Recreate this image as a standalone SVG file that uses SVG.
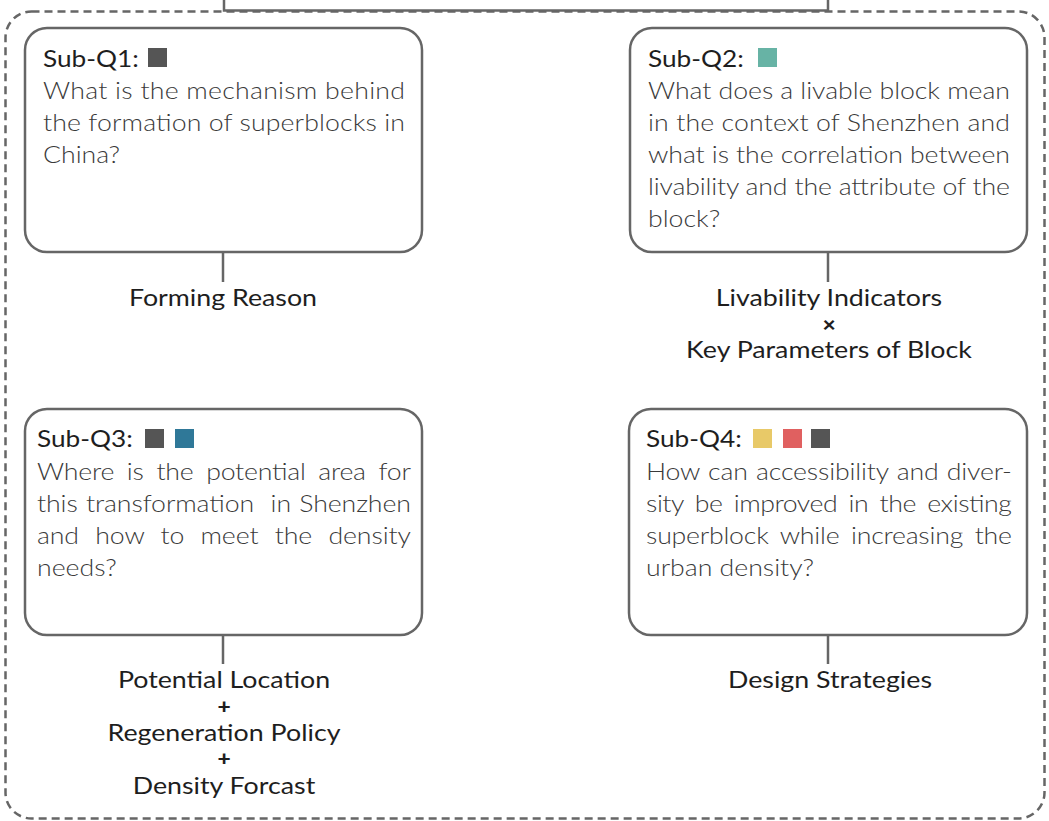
<svg xmlns="http://www.w3.org/2000/svg" width="1049" height="821" viewBox="0 0 1049 821">
<style>
.box{fill:#fff;stroke:#666;stroke-width:2.5}
.line{fill:none;stroke:#666;stroke-width:2.5}
.title{font-family:Lato,"Liberation Sans",sans-serif;font-size:23px;fill:#1e1e1e}
.body{font-family:Lato,"Liberation Sans",sans-serif;font-weight:300;font-size:23.4px;fill:#3a3a3a}
.lbl{font-family:Lato,"Liberation Sans",sans-serif;font-size:23.5px;fill:#1e1e1e;text-anchor:middle}
.op{font-family:Lato,"Liberation Sans",sans-serif;font-size:20px;font-weight:900;fill:#1e1e1e;text-anchor:middle}
</style>
<rect width="1049" height="821" fill="#fff"/>
<g id="frame">
<rect x="5.5" y="11.5" width="1039" height="807" rx="26" ry="26" fill="none" stroke="#666" stroke-width="2.5" stroke-dasharray="8 5"/>
</g>
<g id="connectors">
<path class="line" d="M224 0 V10.5 H828 V0"/>
<path class="line" d="M223 252 V282"/>
<path class="line" d="M828 252 V282"/>
<path class="line" d="M223 635 V664"/>
<path class="line" d="M828 635 V664"/>
</g>
<g id="subq1">
<rect class="box" x="25" y="28" width="397" height="224" rx="22"/>
<rect x="148" y="48" width="19" height="19" fill="#555"/>
<g transform="scale(1.14 1)">
<text class="title" x="37.72" y="67">Sub-Q1:</text>
<text class="body" x="37.72" y="99" textLength="317.5" lengthAdjust="spacing">What is the mechanism behind</text>
<text class="body" x="37.72" y="131" textLength="317.5" lengthAdjust="spacing">the formation of superblocks in</text>
<text class="body" x="37.72" y="163">China?</text>
</g>
</g>
<g id="subq2">
<rect class="box" x="630" y="28" width="397" height="224" rx="22"/>
<rect x="758" y="48" width="19" height="19" fill="#67b3a5"/>
<g transform="scale(1.14 1)">
<text class="title" x="568.42" y="67">Sub-Q2:</text>
<text class="body" x="568.42" y="99" textLength="317.5" lengthAdjust="spacing">What does a livable block mean</text>
<text class="body" x="568.42" y="131" textLength="317.5" lengthAdjust="spacing">in the context of Shenzhen and</text>
<text class="body" x="568.42" y="163" textLength="317.5" lengthAdjust="spacing">what is the correlation between</text>
<text class="body" x="568.42" y="195" textLength="317.5" lengthAdjust="spacing">livability and the attribute of the</text>
<text class="body" x="568.42" y="227">block?</text>
</g>
</g>
<g id="subq3">
<rect class="box" x="25" y="409" width="397" height="226" rx="22"/>
<rect x="145" y="429" width="19" height="19" fill="#555"/>
<rect x="175" y="429" width="19" height="19" fill="#2f7898"/>
<g transform="scale(1.14 1)">
<text class="title" x="32.46" y="447">Sub-Q3:</text>
<text class="body" x="32.46" y="480" word-spacing="5" textLength="328" lengthAdjust="spacing">Where is the potential area for</text>
<text class="body" x="32.46" y="512" word-spacing="1" textLength="328" lengthAdjust="spacing">this transformation&#160; in Shenzhen</text>
<text class="body" x="32.46" y="544" word-spacing="8" textLength="328" lengthAdjust="spacing">and how to meet the density</text>
<text class="body" x="32.46" y="576">needs?</text>
</g>
</g>
<g id="subq4">
<rect class="box" x="629" y="409" width="398" height="226" rx="22"/>
<rect x="753" y="429" width="19" height="19" fill="#e8c968"/>
<rect x="783" y="429" width="19" height="19" fill="#e06060"/>
<rect x="811" y="429" width="19" height="19" fill="#555"/>
<g transform="scale(1.14 1)">
<text class="title" x="566.67" y="447">Sub-Q4:</text>
<text class="body" x="566.67" y="480" word-spacing="1" textLength="321" lengthAdjust="spacing">How can accessibility and diver-</text>
<text class="body" x="566.67" y="512" word-spacing="4" textLength="321" lengthAdjust="spacing">sity be improved in the existing</text>
<text class="body" x="566.67" y="544" word-spacing="4" textLength="321" lengthAdjust="spacing">superblock while increasing the</text>
<text class="body" x="566.67" y="576">urban density?</text>
</g>
</g>
<g id="out1" transform="scale(1.14 1)">
<text class="lbl" x="195.61" y="306">Forming Reason</text>
</g>
<g id="out2" transform="scale(1.14 1)">
<text class="lbl" x="727.19" y="306">Livability Indicators</text>
<text class="op" x="727.19" y="332">×</text>
<text class="lbl" x="727.19" y="358">Key Parameters of Block</text>
</g>
<g id="out3" transform="scale(1.14 1)">
<text class="lbl" x="196.49" y="688">Potential Location</text>
<text class="op" x="196.49" y="714">+</text>
<text class="lbl" x="196.49" y="741">Regeneration Policy</text>
<text class="op" x="196.49" y="766">+</text>
<text class="lbl" x="196.49" y="794">Density Forcast</text>
</g>
<g id="out4" transform="scale(1.14 1)">
<text class="lbl" x="728.07" y="688">Design Strategies</text>
</g>
</svg>
